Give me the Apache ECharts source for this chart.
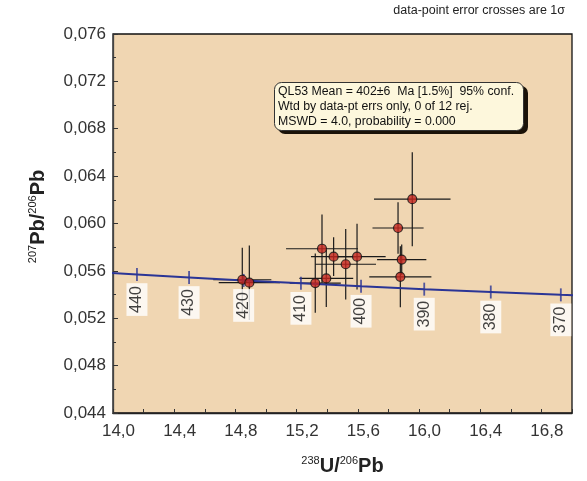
<!DOCTYPE html>
<html><head><meta charset="utf-8">
<script src="https://cdn.jsdelivr.net/npm/echarts@6/dist/echarts.min.js"></script>
<style>html,body{margin:0;padding:0;background:#fff}#c{width:587px;height:481px}</style>
</head><body><div id="c"></div>
<script>
// Data points (238U/206Pb, 207Pb/206Pb) with 1-sigma errors
const pointX = [15.956, 15.863, 15.366, 15.442, 15.595, 15.521, 15.887, 15.878, 14.845, 14.891, 15.322, 15.394];
const pointY = [0.06205, 0.05962, 0.05787, 0.05720, 0.05720, 0.05656, 0.05695, 0.05550, 0.05525, 0.05500, 0.05497, 0.05536];
const errX   = [0.25, 0.167, 0.235, 0.148, 0.187, 0.198, 0.161, 0.203, 0.19, 0.20, 0.167, 0.176];
const errY   = [0.00397, 0.00217, 0.0029, 0.00163, 0.00278, 0.00298, 0.00128, 0.00257, 0.0027, 0.00314, 0.0025, 0.0024];

// Concordia curve points (age in Ma)
const concordiaAge = [450, 440, 430, 420, 410, 400, 390, 380, 370, 360];
const concordiaX   = [13.8312, 14.1566, 14.4972, 14.8541, 15.2284, 15.6212, 16.0342, 16.4691, 16.9270, 17.4115];
const concordiaY   = [0.055940, 0.055689, 0.055439, 0.055192, 0.054946, 0.054701, 0.054457, 0.054215, 0.053975, 0.053737];
const labelledAges = [440, 430, 420, 410, 400, 390, 380, 370];

const infoLines = [
  'QL53 Mean = 402\u00b16  Ma [1.5%]  95% conf.',
  'Wtd by data-pt errs only, 0 of 12 rej.',
  'MSWD = 4.0, probability = 0.000'
];
const noteText = 'data-point error crosses are 1\u03c3';

const FONT = '"Liberation Sans", Arial, sans-serif';
const BLUE = '#2b3596';

const pts = pointX.map((x, i) => [x, pointY[i], errX[i], errY[i]]);
const curve = concordiaX.map((x, i) => [x, concordiaY[i]]);
const ageMarks = concordiaAge.map((a, i) => [concordiaX[i], concordiaY[i], a]).filter(d => labelledAges.includes(d[2]));

const chart = echarts.init(document.getElementById('c'), null, {renderer: 'canvas'});
chart.setOption({
  animation: false,
  grid: {left: 113, right: 15, top: 34, bottom: 64, show: true, backgroundColor: '#f0d6b2', borderColor: '#111', borderWidth: 1.3},
  xAxis: {
    type: 'value', min: 14, max: 17, interval: 0.4,
    axisLine: {show: true, onZero: false, lineStyle: {color: '#222', width: 1.3}},
    axisTick: {show: true, inside: true, length: 4, lineStyle: {color: '#333'}},
    minorTick: {show: true, splitNumber: 2, length: 4, lineStyle: {color: '#333'}},
    splitLine: {show: false},
    axisLabel: {showMaxLabel: false, margin: 10, fontSize: 17, color: '#333', fontFamily: FONT, padding: [0, 0, 0, 11],
      formatter: v => v.toFixed(1).replace('.', ',')},
    name: '{s|238}{b|U/}{s|206}{b|Pb}', nameLocation: 'middle', nameGap: 42,
    nameTextStyle: {rich: {
      s: {fontSize: 11, fontFamily: FONT, color: '#222', verticalAlign: 'top', lineHeight: 22},
      b: {fontSize: 20, fontWeight: 'bold', fontFamily: FONT, color: '#222', lineHeight: 22}
    }}
  },
  yAxis: {
    type: 'value', min: 0.044, max: 0.076, interval: 0.004,
    axisLine: {show: true, onZero: false, lineStyle: {color: '#444', width: 1.3}},
    axisTick: {show: true, inside: true, length: 5, lineStyle: {color: '#333'}},
    minorTick: {show: true, splitNumber: 2, length: 3, lineStyle: {color: '#333'}},
    splitLine: {show: false},
    axisLabel: {margin: 7, fontSize: 17, color: '#333', fontFamily: FONT,
      formatter: v => v.toFixed(3).replace('.', ',')},
    name: '{s|207}{b|Pb/}{s|206}{b|Pb}', nameLocation: 'middle', nameRotate: 90, nameGap: 64,
    nameTextStyle: {padding: [0, 0, 0, 14], rich: {
      s: {fontSize: 11, fontFamily: FONT, color: '#222', verticalAlign: 'top', lineHeight: 22},
      b: {fontSize: 20, fontWeight: 'bold', fontFamily: FONT, color: '#222', lineHeight: 22}
    }}
  },
  series: [
    {
      type: 'custom', silent: true, z: 2, clip: true,
      data: pts,
      renderItem: (params, api) => {
        const x = api.value(0), y = api.value(1), sx = api.value(2), sy = api.value(3);
        const l = api.coord([x - sx, y]), r = api.coord([x + sx, y]);
        const t = api.coord([x, y + sy]), b = api.coord([x, y - sy]);
        return {type: 'group', children: [
          {type: 'line', shape: {x1: l[0], y1: l[1], x2: r[0], y2: r[1]}, style: {stroke: '#1a1a1a', lineWidth: 1.2}},
          {type: 'line', shape: {x1: t[0], y1: t[1], x2: b[0], y2: b[1]}, style: {stroke: '#1a1a1a', lineWidth: 1.2}}
        ]};
      }
    },
    {
      type: 'line', silent: true, z: 3, data: curve, showSymbol: false, clip: true,
      lineStyle: {color: BLUE, width: 2}
    },
    {
      type: 'scatter', silent: true, z: 4, data: ageMarks, symbol: 'rect', symbolSize: [1.8, 13],
      itemStyle: {color: BLUE}
    },
    {
      type: 'scatter', silent: true, z: 5, data: ageMarks, symbolSize: 0,
      label: {show: true, position: 'inside', offset: [-25, 0], rotate: 90, formatter: p => String(p.value[2]),
        fontSize: 16, fontFamily: FONT, color: '#111', backgroundColor: '#fff', padding: [3, 3, 2, 3]}
    },
    {
      type: 'scatter', silent: true, z: 6, data: pts.map(p => [p[0], p[1]]), symbolSize: 9,
      itemStyle: {color: '#c4261f', borderColor: '#111', borderWidth: 1.2}
    }
  ],
  graphic: [
    {type: 'text', right: 22, top: 4, style: {text: noteText, font: '12.5px ' + FONT, fill: '#222'}},
    {type: 'rect', left: 278, top: 86, shape: {width: 250, height: 48, r: 7}, style: {fill: '#1a1208'}, z: 100},
    {type: 'rect', left: 274, top: 82, shape: {width: 249, height: 48, r: 7}, style: {fill: '#fdf7dc', stroke: '#333', lineWidth: 1}, z: 101},
    {type: 'text', left: 278, top: 84, style: {text: infoLines.join('\n'), font: '12.3px ' + FONT, fill: '#111', lineHeight: 15}, z: 102}
  ]
});
</script></body></html>
